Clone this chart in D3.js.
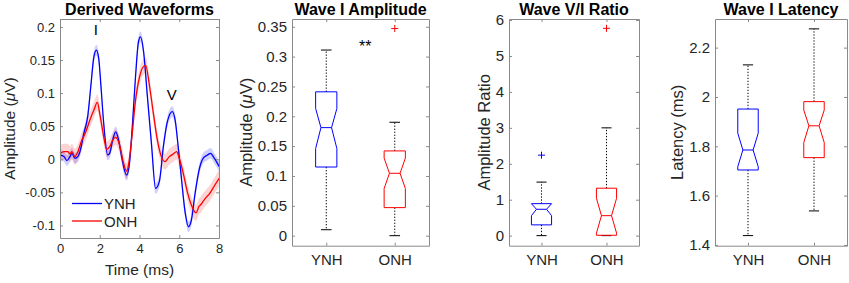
<!DOCTYPE html>
<html>
  <head>
    <meta charset="utf-8">
    <title>Derived waveforms</title>
    <script src="https://cdn.jsdelivr.net/npm/d3@7"></script>
    <style>
      body { margin: 0; background: #fff; }
      svg { display: block; font-family: "Liberation Sans", Arial, sans-serif; }
      .title { font-weight: bold; font-size: 16px; text-anchor: middle; fill: #000; }
      .axisLabel { text-anchor: middle; fill: #262626; }
    </style>
  </head>
  <body>
    <div id="container"></div>

    <script>
      // waveform data (time in ms, amplitude in uV)
      ynhTime = [0, 0.2, 0.35, 0.5, 0.6, 0.75, 0.9, 1.0, 1.2, 1.4, 1.55, 1.7, 1.83, 1.95, 2.05, 2.2, 2.4, 2.5, 2.65, 2.8, 2.95, 3.1, 3.35, 3.5, 3.65, 3.8, 3.95, 4.05, 4.2, 4.4, 4.6, 4.81, 5.0, 5.2, 5.4, 5.65, 5.8, 5.95, 6.1, 6.3, 6.46, 6.6, 6.8, 7.0, 7.2, 7.4, 7.58, 7.75, 7.9, 8.0];
      ynhAmp = [0.0065, 0.004, -0.002, 0.004, 0.009, 0.0015, 0.004, 0.011, 0.039, 0.066, 0.11, 0.154, 0.165, 0.152, 0.115, 0.054, 0.0065, 0.009, 0.029, 0.0415, 0.029, 0.004, -0.024, -0.005, 0.055, 0.125, 0.178, 0.185, 0.164, 0.094, 0.024, -0.044, -0.0335, 0.019, 0.0565, 0.072, 0.058, 0.018, -0.026, -0.081, -0.102, -0.0935, -0.051, -0.016, 0.0015, 0.006, 0.009, 0.002, -0.005, -0.011];
      onhTime = [0, 0.2, 0.4, 0.5, 0.6, 0.75, 0.9, 1.1, 1.2, 1.3, 1.5, 1.7, 1.88, 2.0, 2.2, 2.35, 2.5, 2.65, 2.8, 3.0, 3.2, 3.35, 3.45, 3.6, 3.8, 4.0, 4.15, 4.31, 4.5, 4.7, 4.9, 5.1, 5.28, 5.5, 5.7, 5.87, 6.0, 6.2, 6.4, 6.6, 6.84, 7.0, 7.1, 7.2, 7.4, 7.5, 7.6, 7.8, 8.0];
      onhAmp = [0.009, 0.0115, 0.0115, 0.008, 0.0115, 0.004, 0.0115, 0.029, 0.035, 0.0415, 0.059, 0.074, 0.086, 0.069, 0.034, 0.015, 0.019, 0.029, 0.033, 0.0215, -0.006, -0.0177, -0.008, 0.029, 0.089, 0.124, 0.138, 0.142, 0.1115, 0.069, 0.029, 0.004, -0.0036, 0.004, 0.008, 0.0115, 0.0015, -0.021, -0.0485, -0.0685, -0.081, -0.071, -0.068, -0.0635, -0.056, -0.053, -0.0485, -0.0385, -0.029];
      // half-width of shaded error bands
      ynhError = 0.008;
      onhError = 0.012;

      // box plot data: [lower whisker, q1, notch low, median, notch high, q3, upper whisker]
      groups = ["YNH", "ONH"];
      ampBoxes = [[0.01, 0.115, 0.146, 0.181, 0.213, 0.241, 0.311], [0, 0.047, 0.079, 0.1045, 0.13, 0.142, 0.19]];
      ampOutliers = [[], [0.347]];
      ratioBoxes = [[0, 0.3, 0.556, 0.734, 0.912, 0.89, 1.49], [0, 0.01, 0.07, 0.556, 1.04, 1.32, 3.0]];
      ratioOutliers = [[2.24], [5.77]];
      latencyBoxes = [[1.438, 1.704, 1.717, 1.785, 1.853, 1.951, 2.13], [1.538, 1.754, 1.815, 1.883, 1.947, 1.981, 2.276]];
      latencyOutliers = [[], []];

      // ticks
      timeTicks = [0, 2, 4, 6, 8];
      waveTicks = [-0.1, -0.05, 0, 0.05, 0.1, 0.15, 0.2];
      ampTicks = [0, 0.05, 0.1, 0.15, 0.2, 0.25, 0.3, 0.35];
      ratioTicks = [0, 1, 2, 3, 4, 5, 6];
      latencyTicks = [1.4, 1.6, 1.8, 2, 2.2];

      colours = ["#0000ff", "#ff0000"];
      font = "Liberation Sans, Arial, sans-serif";
      num = d => String(+d.toFixed(2));
      microvolts = ["Amplitude (", "\u03bc", "V)"];

      svg = d3.select("#container").append("svg")
        .attr("width", 849)
        .attr("height", 283);

      // axes box with inward ticks on all four sides
      function frame(x, y, xTicks, xFormat, yTicks, fontSize, xPad) {
        const [l, r] = x.range(), [b, t] = y.range();
        const ax = svg.append("g");
        ax.append("g").attr("transform", "translate(0," + b + ")")
          .call(d3.axisBottom(x).tickValues(xTicks).tickFormat(xFormat)
            .tickSizeInner(-3).tickSizeOuter(0).tickPadding(xPad));
        ax.append("g").attr("transform", "translate(0," + t + ")")
          .call(d3.axisTop(x).tickValues(xTicks).tickFormat("")
            .tickSizeInner(-3).tickSizeOuter(0));
        ax.append("g").attr("transform", "translate(" + l + ",0)")
          .call(d3.axisLeft(y).tickValues(yTicks).tickFormat(num)
            .tickSizeInner(-3).tickSizeOuter(0).tickPadding(5));
        ax.append("g").attr("transform", "translate(" + r + ",0)")
          .call(d3.axisRight(y).tickValues(yTicks).tickFormat("")
            .tickSizeInner(-3).tickSizeOuter(0));
        ax.selectAll("g")
          .attr("font-family", font)
          .attr("font-size", fontSize);
        ax.selectAll("text").attr("fill", "#262626");
        ax.selectAll(".domain, .tick line").attr("stroke", "#8a8a8a");
      }

      function title(x, text) {
        const [l, r] = x.range();
        svg.append("text")
          .classed("title", true)
          .attr("x", (l + r) / 2)
          .attr("y", 15)
          .text(text);
      }

      // label is a string, or [before, italic, after]
      function yLabel(y, xPos, size, label) {
        const [b, t] = y.range();
        const text = svg.append("text")
          .classed("axisLabel", true)
          .attr("transform", "translate(" + xPos + "," + ((b + t) / 2) + ") rotate(-90)")
          .style("font-size", size + "px");
        if (typeof label === "string") {
          text.text(label);
        } else {
          text.append("tspan").text(label[0]);
          text.append("tspan").style("font-style", "italic").text(label[1]);
          text.append("tspan").text(label[2]);
        }
      }

      // panel 1: derived waveforms
      x1 = d3.scaleLinear().domain([0, 8]).range([60, 219]);
      y1 = d3.scaleLinear().domain([-0.119, 0.212]).range([238, 19]);

      waves = [
        {time: ynhTime, amp: ynhAmp, err: ynhError, colour: colours[0], band: "rgba(40,40,255,0.22)"},
        {time: onhTime, amp: onhAmp, err: onhError, colour: colours[1], band: "rgba(240,60,60,0.22)"}
      ];

      waveGroup = svg.append("g");
      waves.forEach(w => {
        const pts = w.time.map((t, i) => [t, w.amp[i]]);
        waveGroup.append("path")
          .datum(pts)
          .attr("fill", w.band)
          .attr("d", d3.area()
            .curve(d3.curveMonotoneX)
            .x(d => x1(d[0]))
            .y0(d => y1(d[1] - w.err))
            .y1(d => y1(d[1] + w.err)));
      });
      waves.forEach(w => {
        const pts = w.time.map((t, i) => [t, w.amp[i]]);
        waveGroup.append("path")
          .datum(pts)
          .attr("fill", "none")
          .attr("stroke", w.colour)
          .attr("stroke-width", 1.3)
          .attr("d", d3.line()
            .curve(d3.curveMonotoneX)
            .x(d => x1(d[0]))
            .y(d => y1(d[1])));
      });

      frame(x1, y1, timeTicks, num, waveTicks, 13, 6);
      title(x1, "Derived Waveforms");
      yLabel(y1, 15, 15.5, microvolts);
      svg.append("text")
        .classed("axisLabel", true)
        .attr("x", 139.5)
        .attr("y", 275)
        .style("font-size", "15.5px")
        .text("Time (ms)");

      // peak labels
      svg.append("text").attr("x", x1(1.8)).attr("y", 35)
        .attr("text-anchor", "middle").style("font-size", "15px").text("I");
      svg.append("text").attr("x", x1(5.62)).attr("y", 99.5)
        .attr("text-anchor", "middle").style("font-size", "15px").text("V");

      // legend
      legend = svg.append("g").selectAll("g")
        .data(groups)
        .enter().append("g")
          .attr("transform", (d, i) => "translate(72," + (203.5 + i * 17.5) + ")");
      legend.append("line")
        .attr("x2", 30)
        .attr("stroke", (d, i) => colours[i])
        .attr("stroke-width", 1.3);
      legend.append("text")
        .attr("x", 32)
        .attr("y", 5.5)
        .style("font-size", "15px")
        .attr("fill", "#262626")
        .text(d => d);

      // box plot panels
      function boxPanel(left, right, yDomain, yTicks, stats, outliers, name, label, labelX) {
        const x = d3.scaleLinear().domain([0.5, 2.5]).range([left, right]);
        const y = d3.scaleLinear().domain(yDomain).range([245.7, 19]);
        const half = (x(1.155) - x(1));
        const g = svg.append("g");

        const box = g.selectAll("g")
          .data(stats)
          .enter().append("g");

        // whiskers
        box.append("line")
          .attr("x1", (d, i) => x(i + 1)).attr("x2", (d, i) => x(i + 1))
          .attr("y1", d => y(d[5])).attr("y2", d => y(d[6]))
          .attr("stroke", "#000").attr("stroke-dasharray", "1.3,1.7");
        box.append("line")
          .attr("x1", (d, i) => x(i + 1)).attr("x2", (d, i) => x(i + 1))
          .attr("y1", d => y(d[1])).attr("y2", d => y(d[0]))
          .attr("stroke", "#000").attr("stroke-dasharray", "1.3,1.7");
        [0, 6].forEach(k => {
          box.append("line")
            .attr("x1", (d, i) => x(i + 1) - half / 2).attr("x2", (d, i) => x(i + 1) + half / 2)
            .attr("y1", d => y(d[k])).attr("y2", d => y(d[k]))
            .attr("stroke", "#000");
        });

        // notched box
        box.append("path")
          .attr("fill", "none")
          .attr("stroke", (d, i) => colours[i])
          .attr("d", (d, i) => {
            const cx = x(i + 1);
            const lo = Math.max(d[2], d[1]), hi = Math.min(d[4], d[5]);
            const pts = [
              [cx - half, y(d[1])], [cx - half, y(lo)], [cx - half / 2, y(d[3])],
              [cx - half, y(hi)], [cx - half, y(d[5])], [cx + half, y(d[5])],
              [cx + half, y(hi)], [cx + half / 2, y(d[3])], [cx + half, y(lo)],
              [cx + half, y(d[1])]
            ];
            return d3.line()(pts) + "Z";
          });
        box.append("line")
          .attr("x1", (d, i) => x(i + 1) - half / 2).attr("x2", (d, i) => x(i + 1) + half / 2)
          .attr("y1", d => y(d[3])).attr("y2", d => y(d[3]))
          .attr("stroke", (d, i) => colours[i]);

        // outliers
        outliers.forEach((list, i) => {
          g.selectAll(null)
            .data(list)
            .enter().append("path")
              .attr("d", v => "M" + (x(i + 1) - 3.5) + "," + y(v) + "h7M" + x(i + 1) + "," + (y(v) - 3.5) + "v7")
              .attr("stroke", colours[i]);
        });

        frame(x, y, [1, 2], d => groups[d - 1], yTicks, 15, 8.5);
        title(x, name);
        yLabel(y, labelX, 16.5, label);
        return x;
      }

      ampX = boxPanel(292, 429, [-0.0168, 0.363], ampTicks, ampBoxes, ampOutliers, "Wave I Amplitude", microvolts, 251.7);
      boxPanel(509, 639, [-0.28, 6.03], ratioTicks, ratioBoxes, ratioOutliers, "Wave V/I Ratio", "Amplitude Ratio", 489.5);
      boxPanel(715, 847, [1.397, 2.316], latencyTicks, latencyBoxes, latencyOutliers, "Wave I Latency", "Latency (ms)", 682.7);

      // significance marker
      svg.append("text")
        .attr("x", ampX(1.57))
        .attr("y", 52)
        .attr("text-anchor", "middle")
        .style("font-size", "16px")
        .text("**");
    </script>
  </body>
</html>
